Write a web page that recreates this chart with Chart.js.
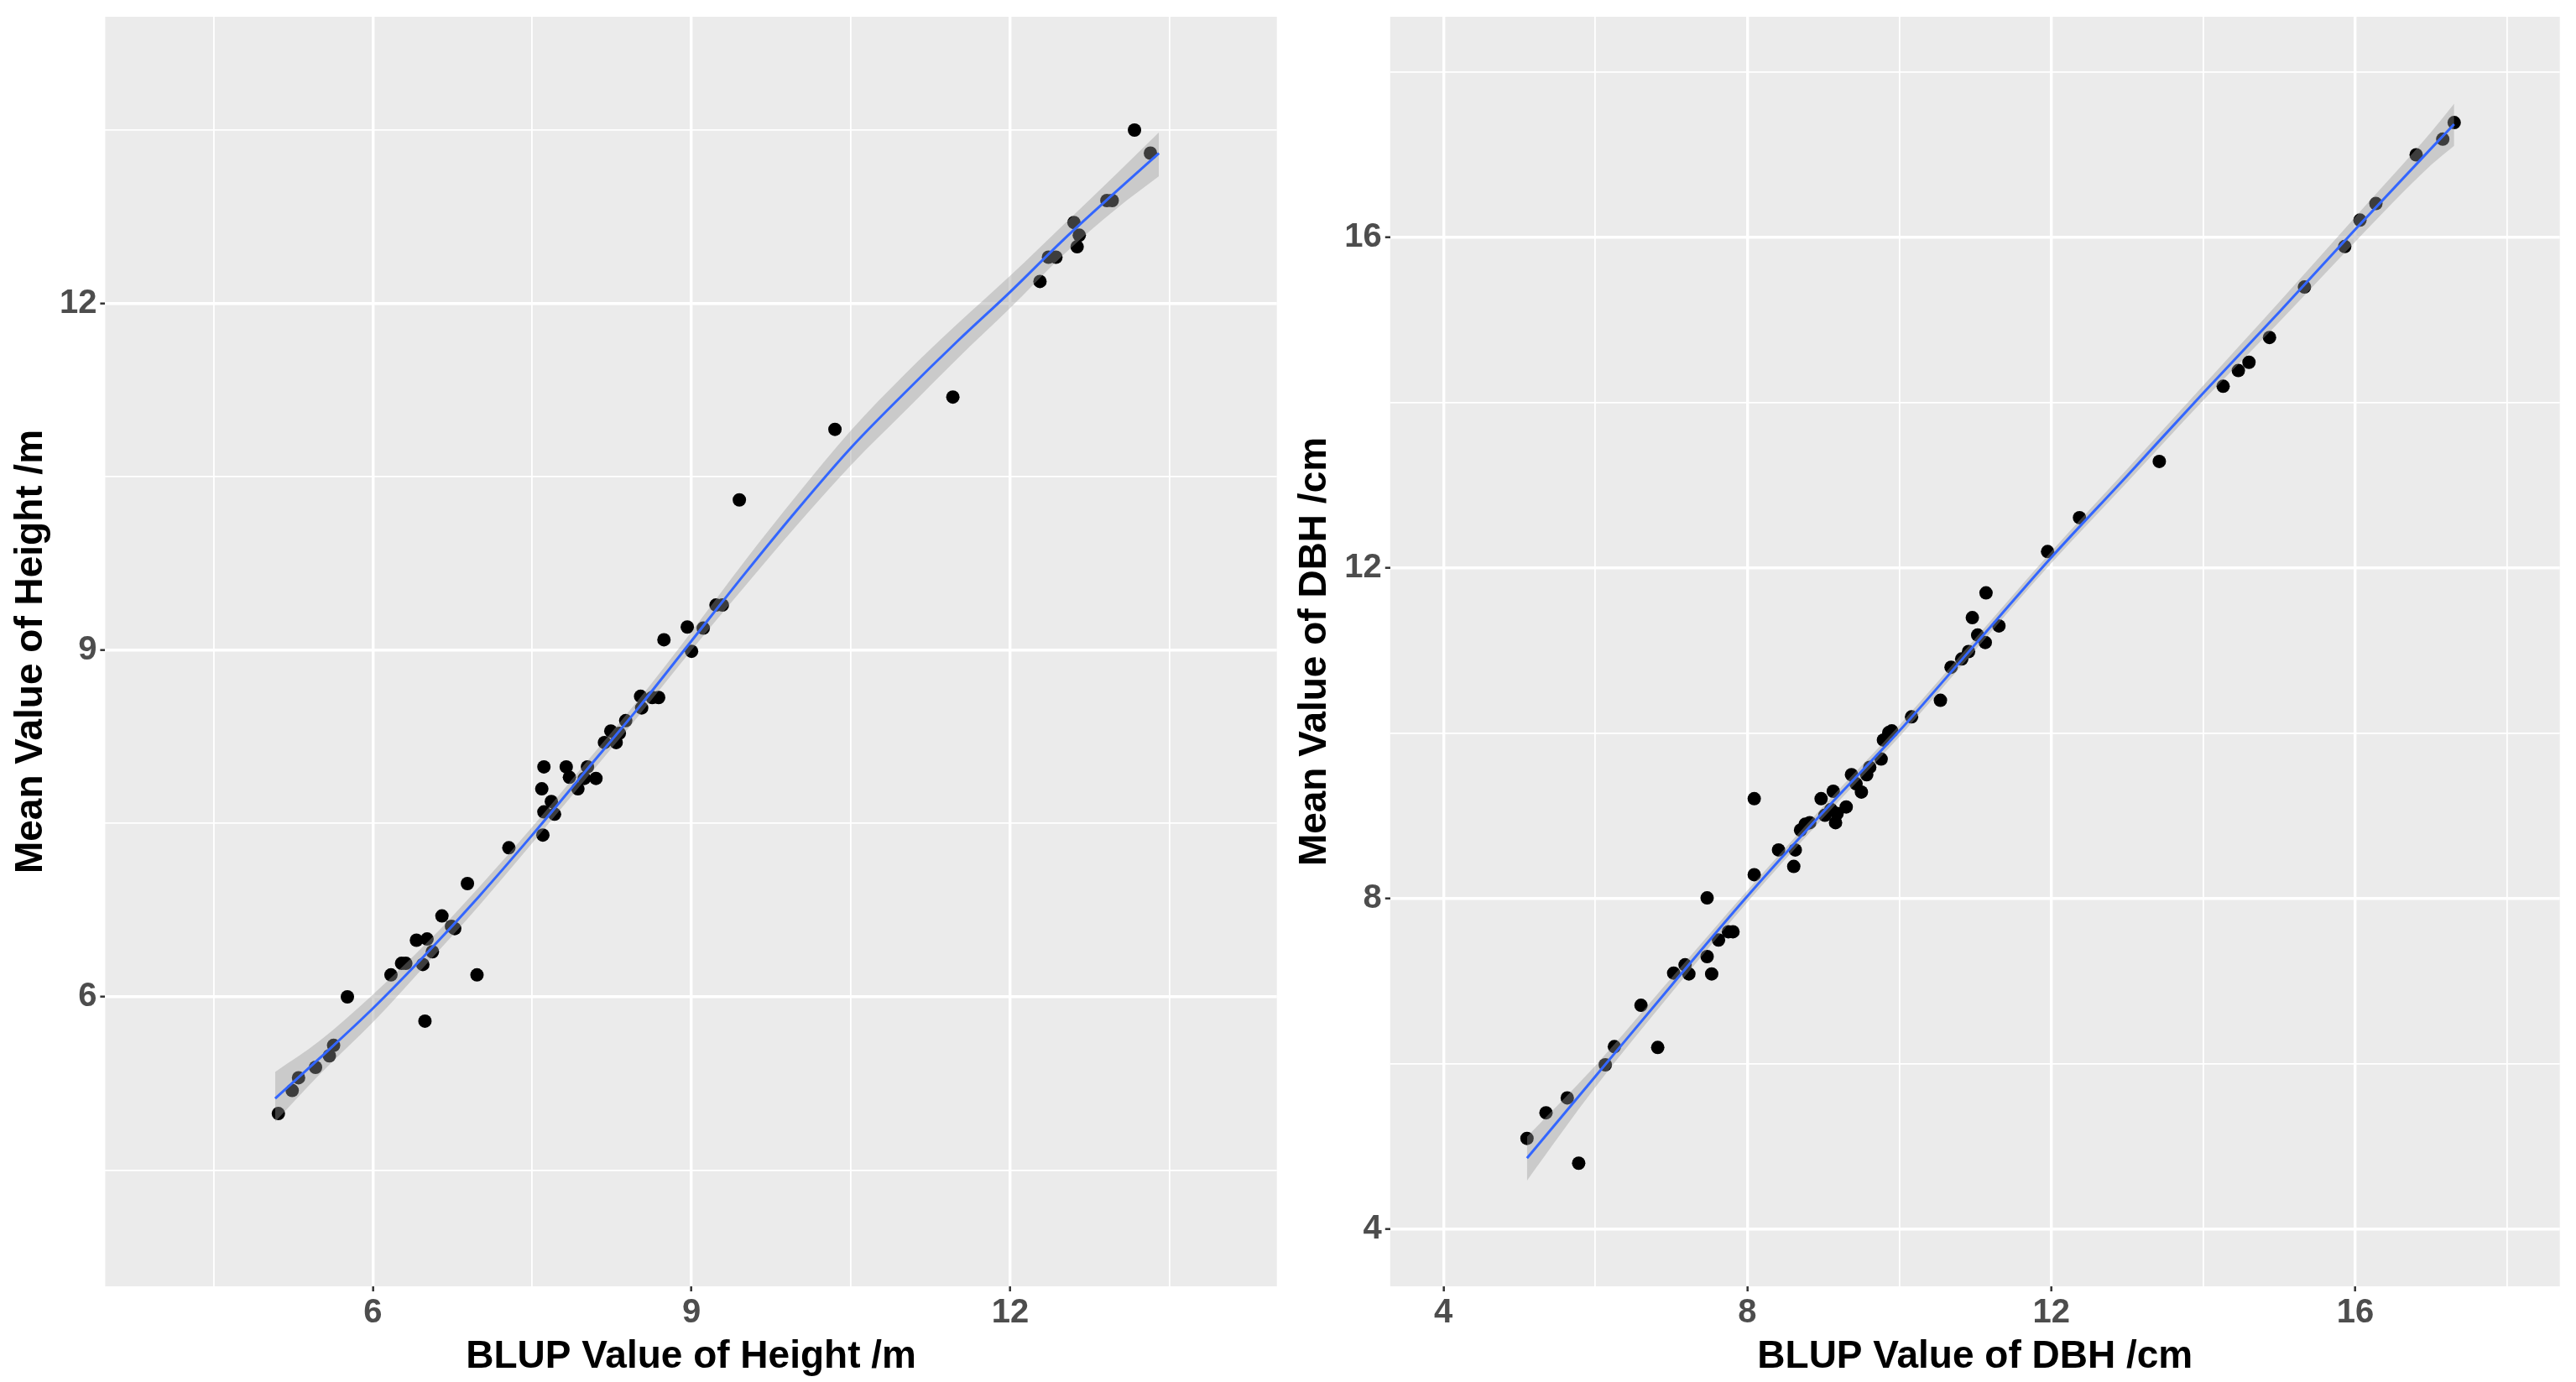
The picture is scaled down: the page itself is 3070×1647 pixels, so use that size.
<!DOCTYPE html>
<html>
<head>
<meta charset="utf-8">
<script src="https://cdn.jsdelivr.net/npm/chart.js@4.4.1/dist/chart.umd.min.js"></script>
<style>
html,body{margin:0;padding:0;background:#ffffff;width:3070px;height:1647px;overflow:hidden}
.panel{position:absolute;top:0;height:1647px;width:1540px}
#p1{left:0}
#p2{left:1530px}
</style>
</head>
<body>
<div class="panel" id="p1"><canvas id="c1"></canvas></div>
<div class="panel" id="p2"><canvas id="c2"></canvas></div>
<script>
// ---------- Height panel ----------
const heightBLUP = [5.11,5.24,5.30,5.46,5.59,5.63,5.76,6.17,6.27,6.31,6.41,6.51,6.47,6.56,6.49,6.65,6.77,6.74,6.89,6.98,
  7.28,7.60,7.61,7.59,7.61,7.68,7.71,7.82,7.85,7.93,7.99,8.02,8.10,8.18,8.24,8.29,8.32,8.38,8.52,8.53,
  8.63,8.69,8.74,8.96,9.00,9.11,9.23,9.29,9.45,10.35,11.46,12.28,12.36,12.43,12.60,12.65,12.63,12.91,12.96,13.17,13.32];
const heightMean = [4.99,5.19,5.30,5.39,5.49,5.58,6.00,6.19,6.29,6.29,6.49,6.50,6.28,6.39,5.79,6.70,6.59,6.61,6.98,6.19,
  7.29,7.40,7.99,7.80,7.60,7.69,7.58,7.99,7.90,7.80,7.89,7.99,7.89,8.20,8.30,8.20,8.28,8.39,8.60,8.50,
  8.59,8.59,9.09,9.20,8.99,9.19,9.39,9.39,10.30,10.91,11.19,12.19,12.40,12.40,12.70,12.59,12.49,12.89,12.89,13.50,13.30];
const heightFitX     = [5.08,5.5,6,6.5,7,7.5,8,8.5,9,9.5,10,10.5,11,11.5,12,12.5,13,13.4];
const heightFitY     = [5.12,5.47,5.90,6.37,6.87,7.40,7.95,8.50,9.08,9.66,10.22,10.75,11.22,11.67,12.10,12.55,12.97,13.30];
const heightFitUpper = [5.35,5.62,6.02,6.46,6.95,7.47,8.02,8.57,9.16,9.77,10.35,10.90,11.38,11.82,12.24,12.68,13.12,13.48];
const heightFitLower = [4.92,5.33,5.78,6.28,6.79,7.33,7.88,8.43,9.00,9.55,10.09,10.60,11.06,11.52,11.96,12.42,12.82,13.10];
const heightMajorTicks = [6, 9, 12];
const heightMinorTicks = [4.5, 7.5, 10.5, 13.5];

// ---------- DBH panel ----------
const dbhBLUP = [5.10,5.35,5.63,5.78,6.13,6.25,6.82,6.60,7.03,7.18,7.23,7.47,7.53,7.47,7.62,7.75,7.81,8.09,8.41,8.63,
  8.61,8.09,8.70,8.76,8.82,8.97,9.02,9.13,9.16,9.18,9.10,9.30,9.37,9.43,9.50,9.57,9.61,9.76,9.79,9.86,
  9.90,10.16,10.54,10.68,10.82,10.91,11.03,11.13,10.96,11.14,11.31,11.95,12.37,13.42,14.26,14.46,14.60,14.87,15.33,15.86,
  16.06,16.27,16.80,17.15,17.30];
const dbhMean = [5.10,5.41,5.59,4.80,5.99,6.21,6.20,6.71,7.10,7.20,7.09,7.30,7.09,8.01,7.50,7.60,7.60,8.29,8.59,8.59,
  8.39,9.21,8.83,8.90,8.92,9.21,9.01,9.30,8.92,9.03,9.08,9.11,9.50,9.39,9.29,9.50,9.59,9.69,9.92,10.01,
  10.03,10.20,10.40,10.80,10.90,10.99,11.19,11.10,11.40,11.70,11.30,12.20,12.61,13.29,14.20,14.39,14.49,14.79,15.40,15.89,
  16.21,16.41,17.00,17.19,17.39];
const dbhFitX     = [5.1,6,7,8,9,10,11,12,13,14,15,16,17,17.3];
const dbhFitY     = [4.86,5.85,6.95,8.03,9.05,10.03,11.08,12.13,13.12,14.12,15.10,16.10,17.08,17.37];
const dbhFitUpper = [5.12,5.98,7.04,8.10,9.12,10.10,11.15,12.20,13.20,14.21,15.22,16.25,17.28,17.62];
const dbhFitLower = [4.59,5.72,6.86,7.96,8.98,9.96,11.01,12.06,13.04,14.03,14.98,15.95,16.88,17.11];
const dbhMajorTicks = [4, 8, 12, 16];
const dbhMinorTicks = [6, 10, 14, 18];

const FONT = '"Liberation Sans", Arial, Helvetica, sans-serif';

const panelBg = {
  id: 'panelBg',
  beforeDraw(chart) {
    const { ctx, chartArea: a } = chart;
    ctx.save();
    ctx.fillStyle = '#EBEBEB';
    ctx.fillRect(a.left, a.top, a.right - a.left, a.bottom - a.top);
    ctx.restore();
  }
};

function zip(xs, ys) { return xs.map((x, i) => ({ x: x, y: ys[i] })); }

function makePanel(id, cfg) {
  const all = cfg.major.concat(cfg.minor).sort((a, b) => a - b);
  const isMajor = v => cfg.major.some(m => Math.abs(m - v) < 1e-9);
  const tickIsMajor = c => c && c.tick && isMajor(c.tick.value);
  function axis(pos, title, min, max) {
    return {
      type: 'linear',
      position: pos,
      min: min,
      max: max,
      afterBuildTicks: s => { s.ticks = all.map(v => ({ value: v })); },
      afterFit: s => {
        if (pos === 'left') s.width = cfg.yAxisWidth; else s.height = 114;
        s.paddingTop = 0; s.paddingBottom = 0; s.paddingLeft = 0; s.paddingRight = 0;
      },
      ticks: {
        autoSkip: false, maxRotation: 0, minRotation: 0,
        color: '#4D4D4D',
        font: { family: FONT, size: 40, weight: 'bold' },
        padding: pos === 'left' ? 4 : 2,
        callback: v => isMajor(v) ? String(v) : ''
      },
      grid: {
        color: '#FFFFFF',
        lineWidth: c => tickIsMajor(c) ? 3.4 : 1.8,
        drawTicks: true,
        tickLength: 6,
        tickWidth: 2.5,
        tickColor: c => tickIsMajor(c) ? '#333333' : 'rgba(0,0,0,0)'
      },
      border: { display: false },
      title: {
        display: true, text: title, color: '#000000',
        font: { family: FONT, size: 46, weight: 'bold' },
        padding: pos === 'left' ? { top: 10, bottom: 0 } : { top: 0, bottom: 2 }
      }
    };
  }
  return new Chart(document.getElementById(id), {
    type: 'line',
    data: {
      datasets: [
        { label: 'points', data: zip(cfg.bx, cfg.my), showLine: false, pointRadius: 8, pointHoverRadius: 8,
          pointBackgroundColor: '#000000', pointBorderWidth: 0, borderColor: '#000000', order: 3 },
        { label: 'upper', data: zip(cfg.fx, cfg.fu), showLine: true, pointRadius: 0, borderWidth: 0,
          borderColor: 'rgba(0,0,0,0)', backgroundColor: 'rgba(153,153,153,0.4)', fill: '+1',
          cubicInterpolationMode: 'monotone', order: 2 },
        { label: 'lower', data: zip(cfg.fx, cfg.fl), showLine: true, pointRadius: 0, borderWidth: 0,
          borderColor: 'rgba(0,0,0,0)', fill: false, cubicInterpolationMode: 'monotone', order: 2 },
        { label: 'fit', data: zip(cfg.fx, cfg.fy), showLine: true, pointRadius: 0, borderWidth: 3,
          borderColor: '#3366FF', fill: false, cubicInterpolationMode: 'monotone', order: 1 }
      ]
    },
    options: {
      animation: false,
      responsive: true,
      maintainAspectRatio: false,
      events: [],
      layout: { padding: { top: 20, right: cfg.padRight, left: 0, bottom: 0 } },
      plugins: { legend: { display: false }, tooltip: { enabled: false } },
      scales: {
        x: axis('bottom', cfg.xTitle, cfg.xmin, cfg.xmax),
        y: axis('left', cfg.yTitle, cfg.ymin, cfg.ymax)
      }
    },
    plugins: [panelBg]
  });
}

makePanel('c1', {
  bx: heightBLUP, my: heightMean, fx: heightFitX, fy: heightFitY, fu: heightFitUpper, fl: heightFitLower,
  major: heightMajorTicks, minor: heightMinorTicks,
  xmin: 3.48, xmax: 14.51, ymin: 3.495, ymax: 14.48,
  xTitle: 'BLUP Value of Height /m', yTitle: 'Mean Value of Height /m',
  yAxisWidth: 125.4, padRight: 18.3
});
makePanel('c2', {
  bx: dbhBLUP, my: dbhMean, fx: dbhFitX, fy: dbhFitY, fu: dbhFitUpper, fl: dbhFitLower,
  major: dbhMajorTicks, minor: dbhMinorTicks,
  xmin: 3.30, xmax: 18.69, ymin: 3.31, ymax: 18.67,
  xTitle: 'BLUP Value of DBH /cm', yTitle: 'Mean Value of DBH /cm',
  yAxisWidth: 126.8, padRight: 19.3
});
</script>
</body>
</html>
